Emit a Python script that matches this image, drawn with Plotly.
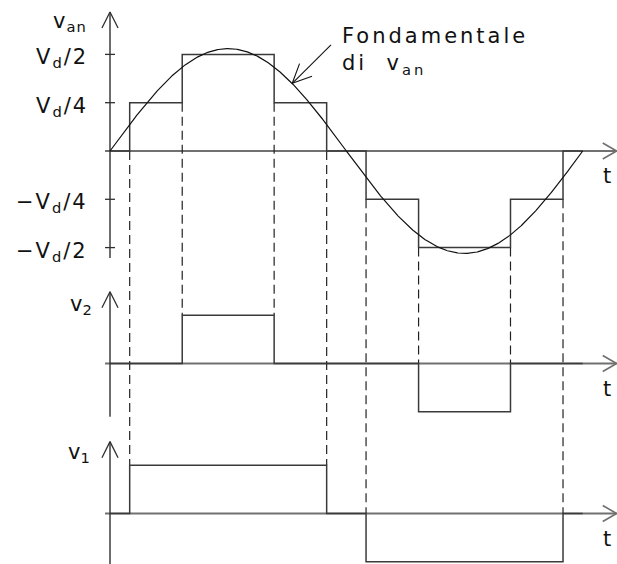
import numpy as np
import plotly.graph_objects as go

# Switching angles of the two cells over one period (degrees)
angles = [15, 55, 125, 165, 195, 235, 305, 345]
# Cell output levels (units of Vd/4) on each interval between switching angles
v1_levels = [0, 1, 1, 1, 0, -1, -1, -1, 0]
v2_levels = [0, 0, 1, 0, 0, 0, -1, 0, 0]
van_levels = [a + b for a, b in zip(v1_levels, v2_levels)]
# Peak of the fundamental of v_an (units of Vd/4)
fund_amp = 2.12
# Level ticks on the v_an axis
tick_levels = [2, 1, -1, -2]
tick_labels = ["V<sub>d</sub>/2", "V<sub>d</sub>/4",
               "\u2212V<sub>d</sub>/4", "\u2212V<sub>d</sub>/2"]

# ---- drawing geometry -------------------------------------------------
W, H = 617, 564
PX_DEG = 1.3131      # pixels per degree
PX_UNIT = 48.3       # pixels per Vd/4
X0 = -83.77
Y1 = 3.126
X1 = X0 + W / PX_DEG
Y0 = Y1 - H / PX_UNIT
BASE = {"van": 0.0, "v2": -4.40, "v1": -7.505}
X_TIP = 385.8
AX_LEFT = -3.8
TICK_HALF = 3.8

INK = "#111111"
AXIS_H = "#707070"
AXIS_V = "#303030"
WAVE = "#3a3a3a"
FONT = dict(family="DejaVu Sans", size=20, color=INK)


def head(tx, ty, direction, length=17.0, half=27.0):
    """Open V arrowhead at (tx, ty) pointing along `direction` (deg, screen)."""
    xs, ys = [], []
    for s in (-1, 1):
        a = np.radians(direction + 180 + s * half)
        xs.append(tx + length * np.cos(a) / PX_DEG)
        ys.append(ty + length * np.sin(a) / PX_UNIT)
    return [xs[0], tx, xs[1]], [ys[0], ty, ys[1]]


fig = go.Figure()


def line(x, y, color, width, dash="solid", shape="linear"):
    fig.add_trace(go.Scatter(x=x, y=y, mode="lines", hoverinfo="skip",
                             line=dict(color=color, width=width, dash=dash,
                                       shape=shape)))


# ---- axes ---------------------------------------------------------------
v_spans = {"van": (-2.215, 2.878), "v2": (-1.101, 1.487), "v1": (Y0 - BASE["v1"], 1.487)}
for key, b in BASE.items():
    line([AX_LEFT, X_TIP], [b, b], AXIS_H, 2)
    hx, hy = head(X_TIP, b, 0, length=16, half=30)
    line(hx, hy, AXIS_H, 1.6)
    lo, hi = v_spans[key]
    line([0, 0], [b + lo, b + hi], AXIS_V, 1.4)
    hx, hy = head(0, b + hi, 90, length=18, half=26.6)
    line(hx, hy, AXIS_V, 1.3)
    fig.add_annotation(x=378.5, y=b - 0.52, text="t", showarrow=False,
                       font=dict(FONT, size=21), xanchor="center", yanchor="middle")

for lv in tick_levels:
    line([-TICK_HALF, TICK_HALF], [lv, lv], AXIS_V, 1.3)

# ---- dashed connectors between the panels -------------------------------
dx, dy = [], []
for i, ang in enumerate(angles):
    top_y = min(van_levels[i], van_levels[i + 1])
    if v1_levels[i] != v1_levels[i + 1]:
        lows = BASE["v1"] + max(v1_levels[i], v1_levels[i + 1])
    else:
        lows = BASE["v2"] + max(v2_levels[i], v2_levels[i + 1])
    dx += [ang, ang, None]
    dy += [top_y, lows, None]
line(dx, dy, "#222222", 1.2, dash="9px,5px")

# ---- waveforms ------------------------------------------------------------
edges = [0] + angles + [360]
for key, lv in (("van", van_levels), ("v2", v2_levels), ("v1", v1_levels)):
    b = BASE[key]
    line(edges, [b + v for v in lv] + [b + lv[-1]], WAVE, 1.5, shape="hv")

theta = np.linspace(0, 360, 721)
line(theta, fund_amp * np.sin(np.radians(theta)), INK, 1.2)

# ---- pointer to the fundamental ---------------------------------------------
p_start = (168.3, 2.195)
p_tip = (138.8, 1.402)
line([p_start[0], p_tip[0]], [p_start[1], p_tip[1]], INK, 1.1)
ang_ptr = np.degrees(np.arctan2((p_tip[1] - p_start[1]) * PX_UNIT,
                                (p_tip[0] - p_start[0]) * PX_DEG))
hx, hy = head(p_tip[0], p_tip[1], ang_ptr, length=21, half=25)
line(hx, hy, INK, 1.1)

# ---- labels -----------------------------------------------------------------
def spaced(s, sp=2.5):
    return f'<span style="letter-spacing:{sp}px">{s}</span>'


for lv, lab in zip(tick_levels, tick_labels):
    fig.add_annotation(x=-15.2, y=lv, text=spaced(lab, 2), showarrow=False,
                       font=dict(FONT, size=21), xanchor="right",
                       yanchor="middle", yshift=-4)

fig.add_annotation(x=-16.0, y=2.67, text=spaced("v<sub>an</sub>", 1),
                   showarrow=False, font=dict(FONT, size=21),
                   xanchor="right", yanchor="middle")
fig.add_annotation(x=-12.2, y=BASE["v2"] + 1.21, text="v<sub>2</sub>",
                   showarrow=False, font=dict(FONT, size=21),
                   xanchor="right", yanchor="middle")
fig.add_annotation(x=-13.7, y=BASE["v1"] + 1.25, text="v<sub>1</sub>",
                   showarrow=False, font=dict(FONT, size=21),
                   xanchor="right", yanchor="middle")
fig.add_annotation(x=175.2, y=2.07,
                   text=spaced("Fondamentale", 3) + "<br>" +
                   spaced("di\u00a0\u00a0v<sub>an</sub>", 3),
                   showarrow=False, font=dict(FONT, size=21), align="left",
                   xanchor="left", yanchor="middle")

fig.update_layout(
    width=W, height=H, margin=dict(l=0, r=0, t=0, b=0),
    paper_bgcolor="white", plot_bgcolor="white", showlegend=False,
    xaxis=dict(range=[X0, X1], visible=False, fixedrange=True),
    yaxis=dict(range=[Y0, Y1], visible=False, fixedrange=True),
)
fig.write_html("out.html")
